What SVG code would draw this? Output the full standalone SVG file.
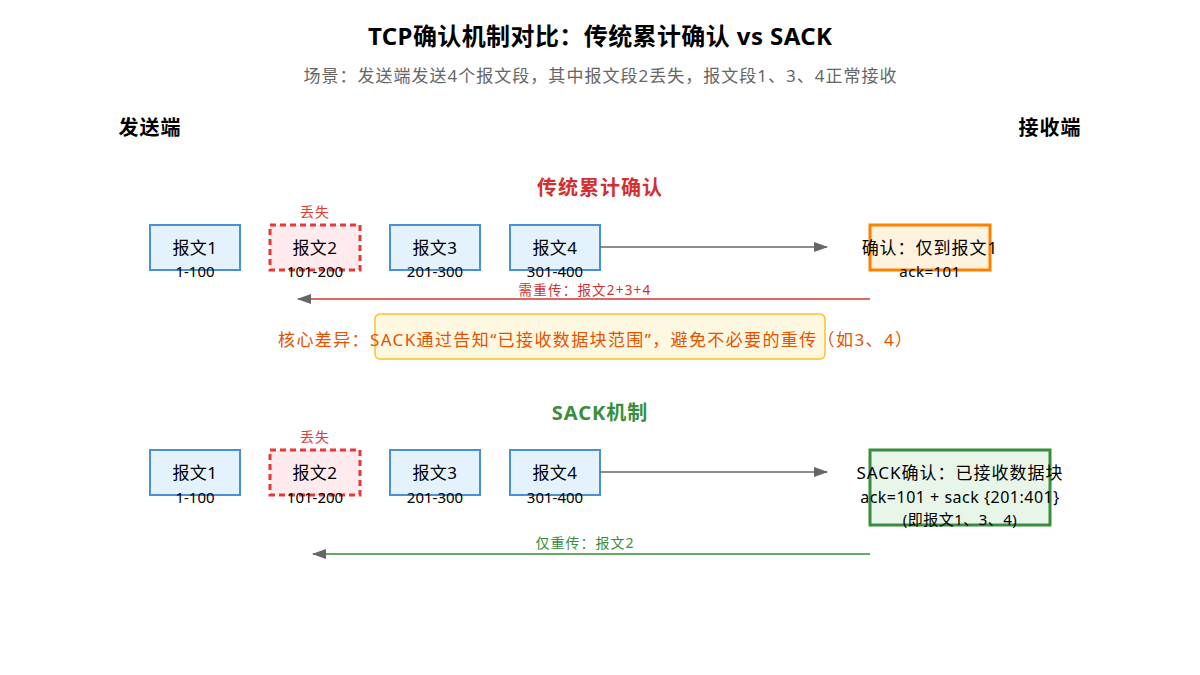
<svg xmlns="http://www.w3.org/2000/svg" width="1200" height="675" viewBox="0 0 1200 675">
<style>
text{font-family:"Noto Sans","Noto Sans CJK SC",sans-serif;text-anchor:middle}
.title{font-size:24px;font-weight:bold;fill:#000}
.sub{font-size:17px;fill:#666}
.side{font-size:20px;font-weight:bold;fill:#000;letter-spacing:1px}
.sec{font-size:20px;font-weight:bold;letter-spacing:1px}
.pkt{fill:#e3f2fd;stroke:#4a90d9;stroke-width:2}
.lost{fill:#ffebee;stroke:#e53935;stroke-width:3;stroke-dasharray:6,4}
.lbl{font-size:17px;fill:#000;letter-spacing:0.5px}
.rng{font-size:15px;fill:#000}
.lostt{font-size:14px;fill:#e53935;letter-spacing:1px}
.fwd{stroke:#666;stroke-width:1.5;fill:none}
</style>
<defs>
<marker id="ah" markerWidth="14" markerHeight="10" refX="13" refY="5" orient="auto" markerUnits="userSpaceOnUse">
<path d="M0,0 L14,5 L0,10 Z" fill="#666"/>
</marker>
</defs>
<rect width="1200" height="675" fill="#fff"/>
<text class="title" x="600" y="45" textLength="464" lengthAdjust="spacing">TCP确认机制对比：传统累计确认 vs SACK</text>
<text class="sub" x="600" y="82" textLength="593" lengthAdjust="spacing">场景：发送端发送4个报文段，其中报文段2丢失，报文段1、3、4正常接收</text>
<text class="side" x="150" y="135">发送端</text>
<text class="side" x="1050" y="135">接收端</text>

<text class="sec" x="600" y="195" fill="#d32f2f">传统累计确认</text>
<g id="t-p1"><rect class="pkt" x="150" y="225" width="90" height="45"/><text class="lbl" x="195" y="254">报文1</text><text class="rng" x="195" y="277">1-100</text></g>
<g id="t-p2"><text class="lostt" x="315" y="217">丢失</text><rect class="lost" x="270" y="225" width="90" height="45"/><text class="lbl" x="315" y="254">报文2</text><text class="rng" x="315" y="277">101-200</text></g>
<g id="t-p3"><rect class="pkt" x="390" y="225" width="90" height="45"/><text class="lbl" x="435" y="254">报文3</text><text class="rng" x="435" y="277">201-300</text></g>
<g id="t-p4"><rect class="pkt" x="510" y="225" width="90" height="45"/><text class="lbl" x="555" y="254">报文4</text><text class="rng" x="555" y="277">301-400</text></g>
<g id="t-ack"><rect x="870" y="225" width="120" height="45" fill="#fff3e0" stroke="#ff8000" stroke-width="3"/><text x="930" y="254" font-size="17" letter-spacing="1" fill="#000">确认：仅到报文1</text><text x="930" y="277" font-size="15" letter-spacing="0.5" fill="#000">ack=101</text></g>

<g id="diff"><rect x="375" y="314" width="450" height="45" rx="5" fill="#fff8e1" stroke="#fbc02d" stroke-width="1.5"/><text x="595" y="346" font-size="17" fill="#e65100" textLength="634" lengthAdjust="spacing">核心差异：SACK通过告知“已接收数据块范围”，避免不必要的重传（如3、4）</text></g>

<text class="sec" x="600" y="420" fill="#388e3c">SACK机制</text>
<g id="s-p1"><rect class="pkt" x="150" y="450" width="90" height="45"/><text class="lbl" x="195" y="479">报文1</text><text class="rng" x="195" y="503">1-100</text></g>
<g id="s-p2"><text class="lostt" x="315" y="442">丢失</text><rect class="lost" x="270" y="450" width="90" height="45"/><text class="lbl" x="315" y="479">报文2</text><text class="rng" x="315" y="503">101-200</text></g>
<g id="s-p3"><rect class="pkt" x="390" y="450" width="90" height="45"/><text class="lbl" x="435" y="479">报文3</text><text class="rng" x="435" y="503">201-300</text></g>
<g id="s-p4"><rect class="pkt" x="510" y="450" width="90" height="45"/><text class="lbl" x="555" y="479">报文4</text><text class="rng" x="555" y="503">301-400</text></g>
<g id="s-ack"><rect x="870" y="450" width="180" height="75" fill="#e8f5e9" stroke="#388e3c" stroke-width="3"/><text x="960" y="479" font-size="17" letter-spacing="1" fill="#000">SACK确认：已接收数据块</text><text x="960" y="503" font-size="16" letter-spacing="0.5" fill="#000">ack=101 + sack {201:401}</text><text x="960" y="525" font-size="15" letter-spacing="0.5" fill="#000">(即报文1、3、4)</text></g>

<g id="connectors">
<line class="fwd" x1="600" y1="247" x2="827" y2="247" marker-end="url(#ah)"/>
<line x1="870" y1="299" x2="298" y2="299" stroke="#e06666" stroke-width="2" marker-end="url(#ah)"/>
<text x="585" y="295" font-size="13.5" letter-spacing="1.2" fill="#d32f2f">需重传：报文2+3+4</text>
<line class="fwd" x1="600" y1="472" x2="827" y2="472" marker-end="url(#ah)"/>
<line x1="870" y1="554" x2="313" y2="554" stroke="#66aa66" stroke-width="2" marker-end="url(#ah)"/>
<text x="585" y="548" font-size="14" letter-spacing="1" fill="#388e3c">仅重传：报文2</text>
</g>
</svg>
